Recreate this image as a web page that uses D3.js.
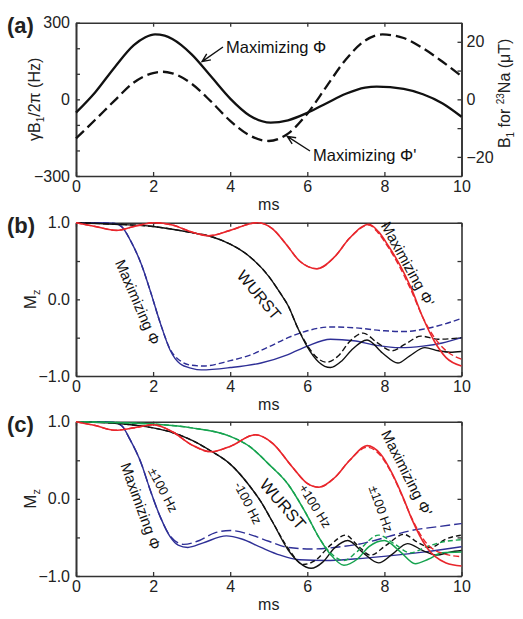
<!DOCTYPE html>
<html><head><meta charset="utf-8">
<script src="https://cdn.jsdelivr.net/npm/d3@7"></script>
<style>
body{margin:0;background:#fff;}
svg{display:block;font-family:"Liberation Sans",Arial,Helvetica,sans-serif;}
</style></head>
<body><svg id="chart" width="523" height="619"></svg>
<script>
// ---------- DATA ----------
const xTicks = [0, 2, 4, 6, 8, 10];
const hzTickLabels = [-300, 0, 300];
const hzMinorTicks = [-300, -200, -100, 0, 100, 200, 300];
const uTTickLabels = [-20, 0, 20];
const uTMinorTicks = [-20, -10, 0, 10, 20];
const mzTickLabels = [-1, 0, 1];
const mzMinorTicks = [-1, -0.5, 0, 0.5, 1];

// Panel (a): B1 amplitude (Hz) vs time (ms)
const b1MaxPhi = [[0,-52],[0.5,28],[1,125],[1.5,212],[1.8,243],[2.05,254],[2.3,249],[2.5,236],[3,176],[3.5,90],[4,3],[4.5,-63],[5.05,-91],[5.5,-82],[6,-53],[6.5,-15],[7,22],[7.5,46],[7.8,50],[8.5,41],[9,20],[9.5,-15],[10,-68]];
const b1MaxPhiPrime = [[0,-153],[0.5,-80],[1,-5],[1.5,66],[2,103],[2.25,108],[2.5,102],[3,61],[3.5,-8],[4,-84],[4.5,-141],[5,-163],[5.5,-134],[6,-56],[6.5,51],[7,156],[7.5,230],[7.95,254],[8.5,240],[9,200],[9.5,148],[10,91]];

// Panel (b): Mz vs time
const bBlue = [[0,1],[0.5,1],[1,0.99],[1.2,0.94],[1.4,0.78],[1.7,0.45],[1.92,0.12],[2.2,-0.33],[2.44,-0.66],[2.7,-0.84],[3,-0.9],[3.25,-0.92],[4,-0.89],[4.8,-0.83],[5.5,-0.72],[6,-0.61],[6.6,-0.52],[7.2,-0.54],[7.8,-0.6],[8.4,-0.63],[9,-0.61],[9.5,-0.57],[10,-0.5]];
const bBlueDash = [[0,1],[0.5,1],[1,0.99],[1.2,0.94],[1.4,0.78],[1.7,0.45],[1.92,0.12],[2.2,-0.33],[2.44,-0.65],[2.7,-0.8],[3,-0.86],[3.3,-0.87],[4,-0.8],[4.5,-0.73],[5,-0.62],[5.5,-0.5],[6,-0.41],[6.6,-0.36],[7.2,-0.37],[8,-0.41],[8.5,-0.42],[9,-0.39],[9.5,-0.33],[10,-0.25]];
const bBlack = [[0,1],[1,0.98],[2,0.95],[3,0.87],[3.5,0.82],[4,0.72],[4.5,0.56],[5,0.3],[5.3,0.08],[5.5,-0.08],[5.75,-0.37],[6,-0.62],[6.3,-0.82],[6.6,-0.89],[6.9,-0.8],[7.15,-0.66],[7.55,-0.53],[7.95,-0.7],[8.35,-0.83],[8.65,-0.74],[9.05,-0.63],[9.4,-0.67],[9.7,-0.69],[10,-0.68]];
const bBlackDash = [[0,1],[1,0.98],[2,0.95],[3,0.87],[3.5,0.82],[4,0.72],[4.5,0.56],[5,0.3],[5.3,0.08],[5.5,-0.08],[5.75,-0.37],[6,-0.6],[6.25,-0.76],[6.5,-0.82],[6.8,-0.74],[7.1,-0.55],[7.45,-0.44],[7.8,-0.56],[8.2,-0.67],[8.55,-0.58],[8.95,-0.48],[9.4,-0.52],[10,-0.5]];
const bRed = [[0,1],[0.5,0.95],[1.05,0.9],[1.5,0.95],[2.05,1.0],[2.5,0.97],[3,0.88],[3.45,0.83],[4,0.9],[4.7,1.0],[5.1,0.92],[5.45,0.72],[5.8,0.5],[6.25,0.4],[6.7,0.55],[7.1,0.8],[7.6,0.98],[7.85,0.88],[8.1,0.7],[8.4,0.45],[8.7,0.14],[9,-0.24],[9.3,-0.55],[9.6,-0.76],[10,-0.87]];
const bRedDash = [[0,1],[0.5,0.95],[1.05,0.9],[1.5,0.95],[2.05,1.0],[2.5,0.97],[3,0.88],[3.45,0.83],[4,0.9],[4.7,1.0],[5.1,0.92],[5.45,0.72],[5.8,0.5],[6.25,0.4],[6.7,0.55],[7.1,0.8],[7.6,0.97],[7.85,0.86],[8.1,0.68],[8.4,0.42],[8.7,0.11],[9,-0.24],[9.3,-0.5],[9.6,-0.67],[10,-0.78]];

// Panel (c): Mz vs time, ±100 Hz off-resonance
const cBlue = [[0,1],[0.5,1],[1,0.99],[1.2,0.94],[1.4,0.77],[1.7,0.45],[1.92,0.12],[2.2,-0.25],[2.44,-0.49],[2.65,-0.6],[2.9,-0.63],[3.3,-0.57],[3.9,-0.48],[4.3,-0.52],[4.8,-0.63],[5.3,-0.73],[5.8,-0.79],[6.5,-0.8],[7.2,-0.78],[8.3,-0.73],[9,-0.69],[10,-0.62]];
const cBlueDash = [[0,1],[0.5,1],[1,0.99],[1.2,0.94],[1.4,0.77],[1.7,0.45],[1.92,0.12],[2.2,-0.25],[2.44,-0.48],[2.79,-0.59],[3.2,-0.54],[3.6,-0.44],[4,-0.41],[4.5,-0.46],[5,-0.55],[5.5,-0.63],[6.1,-0.65],[6.7,-0.63],[7.5,-0.57],[8.1,-0.49],[8.7,-0.41],[9.4,-0.36],[10,-0.32]];
const cBlack = [[0,1],[1,0.98],[2,0.92],[2.5,0.86],[3,0.76],[3.5,0.62],[4,0.45],[4.5,0.17],[4.8,-0.04],[5.1,-0.3],[5.5,-0.66],[5.8,-0.83],[6.1,-0.9],[6.4,-0.82],[6.7,-0.64],[7.05,-0.54],[7.45,-0.7],[7.85,-0.83],[8.2,-0.72],[8.6,-0.58],[9,-0.67],[9.35,-0.73],[9.7,-0.69],[10,-0.67]];
const cBlackDash = [[0,1],[1,0.98],[2,0.92],[2.5,0.86],[3,0.76],[3.5,0.62],[4,0.45],[4.5,0.17],[4.8,-0.04],[5.1,-0.3],[5.5,-0.64],[5.9,-0.85],[6.2,-0.8],[6.6,-0.6],[6.99,-0.47],[7.3,-0.6],[7.64,-0.73],[8.05,-0.6],[8.5,-0.46],[8.85,-0.56],[9.2,-0.63],[9.6,-0.52],[10,-0.47]];
const cGreen = [[0,1],[1,0.99],[2,0.97],[3,0.92],[4,0.81],[4.5,0.68],[5,0.45],[5.5,0.19],[6,-0.22],[6.3,-0.5],[6.6,-0.72],[6.95,-0.86],[7.3,-0.78],[7.6,-0.62],[8,-0.54],[8.4,-0.68],[8.8,-0.84],[9.15,-0.78],[9.5,-0.7],[10,-0.69]];
const cGreenDash = [[0,1],[1,0.99],[2,0.97],[3,0.92],[4,0.81],[4.5,0.68],[5,0.45],[5.5,0.19],[6,-0.22],[6.3,-0.5],[6.6,-0.7],[6.95,-0.8],[7.3,-0.68],[7.85,-0.47],[8.25,-0.58],[8.67,-0.7],[9.1,-0.62],[9.5,-0.56],[10,-0.53]];
const cRed = [[0,1],[0.5,0.95],[1,0.89],[1.5,0.92],[2,0.96],[2.5,0.87],[3,0.7],[3.5,0.61],[4,0.68],[4.65,0.83],[5.1,0.72],[5.6,0.42],[6,0.2],[6.3,0.15],[6.7,0.27],[7.1,0.5],[7.55,0.69],[7.9,0.58],[8.2,0.33],[8.5,0.0],[8.7,-0.25],[9.1,-0.63],[9.6,-0.83],[10,-0.87]];
const cRedDash = [[0,1],[0.5,0.95],[1,0.89],[1.5,0.92],[2,0.96],[2.5,0.87],[3,0.7],[3.5,0.61],[4,0.68],[4.65,0.83],[5.1,0.72],[5.6,0.42],[6,0.2],[6.3,0.15],[6.7,0.27],[7.1,0.5],[7.55,0.67],[7.9,0.56],[8.2,0.32],[8.5,-0.01],[8.7,-0.24],[9.1,-0.58],[9.6,-0.72],[10,-0.75]];

// ---------- STYLE ----------
const BLUE = "#2e2f96", RED = "#e8262c", GREEN = "#16a34f", BLACK = "#111";
const AX = "#333";
const svg = d3.select("#chart");
const X0 = 76, X1 = 461.5;
const panels = [
  {id:"a", top:22.7, bot:176},
  {id:"b", top:222.7, bot:376},
  {id:"c", top:421.7, bot:576}
];
const x = d3.scaleLinear().domain([0,10]).range([X0,X1]);

function frame(p, yScale, majors, minors, fmt, rightMirror){
  const g = svg.append("g");
  g.append("g").attr("transform",`translate(0,${p.bot})`)
    .call(d3.axisBottom(x).tickValues(xTicks).tickSizeInner(-4).tickSizeOuter(0).tickPadding(5).tickFormat(d3.format("d")));
  g.append("g").attr("transform",`translate(0,${p.top})`)
    .call(d3.axisTop(x).tickValues(xTicks).tickSizeInner(-4).tickSizeOuter(0).tickFormat(""));
  g.append("g").attr("transform",`translate(${X0},0)`)
    .call(d3.axisLeft(yScale).tickValues(minors).tickSizeInner(-4).tickSizeOuter(0).tickFormat(""));
  g.append("g").attr("transform",`translate(${X0},0)`)
    .call(d3.axisLeft(yScale).tickValues(majors).tickSizeInner(0).tickSizeOuter(0).tickPadding(6).tickFormat(fmt));
  if (rightMirror){
    g.append("g").attr("transform",`translate(${X1},0)`)
      .call(d3.axisRight(yScale).tickValues(minors).tickSizeInner(-4).tickSizeOuter(0).tickFormat(""));
  }
  g.selectAll("path.domain").attr("stroke",AX).attr("stroke-width",1.6);
  g.selectAll(".tick line").attr("stroke",AX).attr("stroke-width",1.3);
  g.selectAll(".tick text").attr("font-size",16).attr("fill","#222")
    .attr("font-family","'Liberation Sans',Arial,sans-serif");
  return g;
}

function label(p, txt){
  svg.append("text").attr("x",7).attr("y",p.top+10).attr("font-size",22).attr("font-weight","bold")
    .attr("fill","#222").text(`(${txt})`);
  svg.append("text").attr("x",(X0+X1)/2).attr("y",p.bot+34).attr("text-anchor","middle")
    .attr("font-size",16).attr("fill","#222").text("ms");
}

const line = (ys) => d3.line().x(d=>x(d[0])).y(d=>ys(d[1])).curve(d3.curveMonotoneX);
function draw(data, ys, color, width, dash){
  svg.append("path").datum(data).attr("d",line(ys)).attr("fill","none")
    .attr("stroke",color).attr("stroke-width",width)
    .attr("stroke-dasharray",dash||null).attr("stroke-linejoin","round");
}
function rtext(cx, cy, ang, size, color){
  return svg.append("text").attr("transform",`translate(${cx},${cy}) rotate(${ang})`)
    .attr("text-anchor","middle").attr("dominant-baseline","central")
    .attr("font-size",size).attr("fill",color||"#111");
}

// ---------- PANEL A ----------
const pa = panels[0];
const yA = d3.scaleLinear().domain([-300,300]).range([pa.bot,pa.top]);
const yAu = d3.scaleLinear().domain([-300/11.262,300/11.262]).range([pa.bot,pa.top]);
frame(pa, yA, hzTickLabels, hzMinorTicks, d3.format("d"), false);
const ra = svg.append("g");
ra.append("g").attr("transform",`translate(${X1},0)`)
  .call(d3.axisRight(yAu).tickValues(uTMinorTicks).tickSizeInner(-4).tickSizeOuter(0).tickFormat(""));
ra.append("g").attr("transform",`translate(${X1},0)`)
  .call(d3.axisRight(yAu).tickValues(uTTickLabels).tickSizeInner(0).tickSizeOuter(0).tickPadding(5).tickFormat(d3.format("d")));
ra.selectAll("path.domain").attr("stroke",AX).attr("stroke-width",1.6);
ra.selectAll(".tick line").attr("stroke",AX).attr("stroke-width",1.3);
ra.selectAll(".tick text").attr("font-size",16).attr("fill","#222");
label(pa,"a");

draw(b1MaxPhiPrime, yA, BLACK, 2.3, "11,5");
draw(b1MaxPhi, yA, BLACK, 2.3);

const yl = svg.append("text").attr("transform",`translate(40,${(pa.top+pa.bot)/2}) rotate(-90)`)
  .attr("text-anchor","middle").attr("font-size",16).attr("fill","#222");
yl.append("tspan").text("γB");
yl.append("tspan").attr("font-size",10).attr("dy",4).text("1");
yl.append("tspan").attr("dy",-4).text("/2π (Hz)");
const yr = svg.append("text").attr("transform",`translate(510,${(pa.top+pa.bot)/2-6}) rotate(-90)`)
  .attr("text-anchor","middle").attr("font-size",16).attr("fill","#222");
yr.append("tspan").text("B");
yr.append("tspan").attr("font-size",10).attr("dy",4).text("1");
yr.append("tspan").attr("dy",-4).text(" for ");
yr.append("tspan").attr("font-size",10).attr("dy",-6).text("23");
yr.append("tspan").attr("dy",6).text("Na (μT)");

function arrow(x1,y1,x2,y2){
  const a = Math.atan2(y2-y1,x2-x1), L=9, s=0.42;
  const p = d3.path();
  p.moveTo(x1,y1); p.lineTo(x2,y2);
  p.moveTo(x2 - L*Math.cos(a-s), y2 - L*Math.sin(a-s)); p.lineTo(x2,y2);
  p.lineTo(x2 - L*Math.cos(a+s), y2 - L*Math.sin(a+s));
  svg.append("path").attr("d",p.toString()).attr("fill","none").attr("stroke","#111").attr("stroke-width",1.4);
}
arrow(223,47, x(3.27), yA(140)-2);
svg.append("text").attr("x",226).attr("y",53).attr("font-size",16.5).attr("fill","#111").text("Maximizing Φ");
arrow(310,151, x(5.48), yA(-133)+3);
svg.append("text").attr("x",313).attr("y",161).attr("font-size",16.5).attr("fill","#111").text("Maximizing Φ'");

// ---------- PANEL B ----------
const pb = panels[1];
const yB = d3.scaleLinear().domain([-1,1]).range([pb.bot,pb.top]);
frame(pb, yB, mzTickLabels, mzMinorTicks, d3.format(".1f"), true);
label(pb,"b");
function mzLabel(p){
  const t = svg.append("text").attr("transform",`translate(36,${(p.top+p.bot)/2}) rotate(-90)`)
    .attr("text-anchor","middle").attr("font-size",17).attr("fill","#222");
  t.append("tspan").text("M");
  t.append("tspan").attr("font-size",11).attr("dy",4).text("z");
}
mzLabel(pb);
draw(bBlueDash, yB, BLUE, 1.4, "6,3");
draw(bBlue, yB, BLUE, 1.4);
draw(bBlackDash, yB, BLACK, 1.4, "6,3");
draw(bBlack, yB, BLACK, 1.4);
draw(bRedDash, yB, RED, 1.4, "6,3");
draw(bRed, yB, RED, 1.6);
rtext(138,302,66.5,15).text("Maximizing Φ");
rtext(259,295,50,16).text("WURST");
rtext(408,264,61,15).text("Maximizing Φ'");

// ---------- PANEL C ----------
const pc = panels[2];
const yC = d3.scaleLinear().domain([-1,1]).range([pc.bot,pc.top]);
frame(pc, yC, mzTickLabels, mzMinorTicks, d3.format(".1f"), true);
label(pc,"c");
mzLabel(pc);
draw(cBlueDash, yC, BLUE, 1.4, "10,4");
draw(cBlue, yC, BLUE, 1.4);
draw(cBlackDash, yC, BLACK, 1.4, "5,3");
draw(cBlack, yC, BLACK, 1.4);
draw(cGreenDash, yC, GREEN, 1.4, "5,3");
draw(cGreen, yC, GREEN, 1.5);
draw(cRedDash, yC, RED, 1.4, "6,3");
draw(cRed, yC, RED, 1.6);
rtext(141,506,70,15).text("Maximizing Φ");
rtext(163,490,62,13).text("±100 Hz");
rtext(248,503,63,13).text("-100 Hz");
rtext(283,504,49,16.5).text("WURST");
rtext(315,506,58,13).text("+100 Hz");
rtext(381,509,70,13).text("±100 Hz");
rtext(407,473,63,15).text("Maximizing Φ'");
</script></body></html>
